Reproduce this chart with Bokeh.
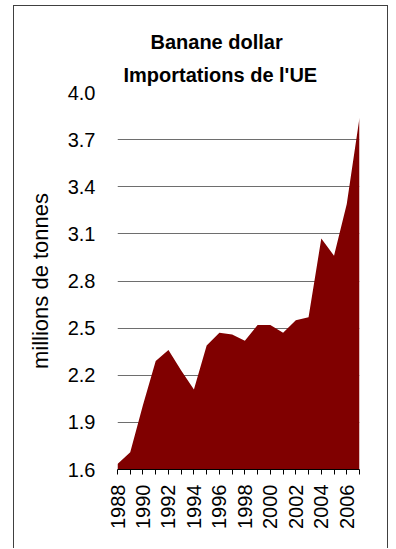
from math import pi
from bokeh.plotting import figure
from bokeh.models import ColumnDataSource, Range1d, FixedTicker, Title, NumeralTickFormatter
from bokeh.embed import file_html
from bokeh.resources import INLINE

# ---- data ----
years = list(range(1988, 2008))
imports = [1.635, 1.71, 2.01, 2.29, 2.36, 2.23, 2.11, 2.39, 2.47, 2.46,
           2.42, 2.52, 2.52, 2.47, 2.55, 2.57, 3.07, 2.96, 3.29, 3.84]
y_ticks = [1.6, 1.9, 2.2, 2.5, 2.8, 3.1, 3.4, 3.7, 4.0]
y_min, y_max = 1.6, 4.0
title_lines = ["Banane dollar", "Importations de l'UE"]
y_title = "millions de tonnes"

FONT = "Liberation Sans"

src = ColumnDataSource(dict(year=years, value=imports, base=[y_min] * len(years)))

p = figure(width=375, height=543, output_backend="svg", toolbar_location=None,
           x_range=Range1d(years[0], years[-1]), y_range=Range1d(y_min, y_max),
           min_border_left=103, min_border_right=30, min_border_top=86,
           min_border_bottom=80, background_fill_color="white",
           border_fill_color="white")
p.margin = (5, 0, 0, 13)
p.styles = {"border": "1px solid #404040", "border-bottom": "none"}
p.outline_line_color = None

p.varea(x="year", y1="base", y2="value", source=src, fill_color="#800000")

# grid
p.xgrid.visible = False
p.ygrid.ticker = FixedTicker(ticks=y_ticks)
p.ygrid.grid_line_color = "#6e6e6e"
p.ygrid.grid_line_width = 1

# y axis
yax = p.yaxis[0]
yax.ticker = FixedTicker(ticks=y_ticks)
yax.formatter = NumeralTickFormatter(format="0.0")
yax.axis_line_color = None
yax.major_tick_line_color = None
yax.minor_tick_line_color = None
yax.major_label_standoff = 16
yax.major_label_text_font = FONT
yax.major_label_text_font_size = "20px"
yax.major_label_text_color = "black"
yax.axis_label = y_title
yax.axis_label_text_font = FONT
yax.axis_label_text_font_size = "22px"
yax.axis_label_text_font_style = "normal"
yax.axis_label_text_color = "black"
yax.axis_label_standoff = 12

# x axis
xax = p.xaxis[0]
xax.ticker = FixedTicker(ticks=years)
xax.major_label_overrides = {y: ("" if (y - years[0]) % 2 else str(y)) for y in years}
xax.major_label_orientation = pi / 2
xax.axis_line_color = "black"
xax.major_tick_line_color = "black"
xax.major_tick_in = 0
xax.major_tick_out = 5
xax.minor_tick_line_color = None
xax.major_label_standoff = 10
xax.major_label_text_font = FONT
xax.major_label_text_font_size = "20px"
xax.major_label_text_color = "black"

# title (two lines; the one added later sits further from the frame)
for line, standoff, off in ((title_lines[1], 13, 6), (title_lines[0], 6, 33)):
    p.add_layout(Title(text=line, align="left", offset=off, standoff=standoff,
                       text_font=FONT, text_font_size="20px", text_font_style="bold",
                       text_color="black"), "above")

open("out.html", "w").write(file_html(p, INLINE))
